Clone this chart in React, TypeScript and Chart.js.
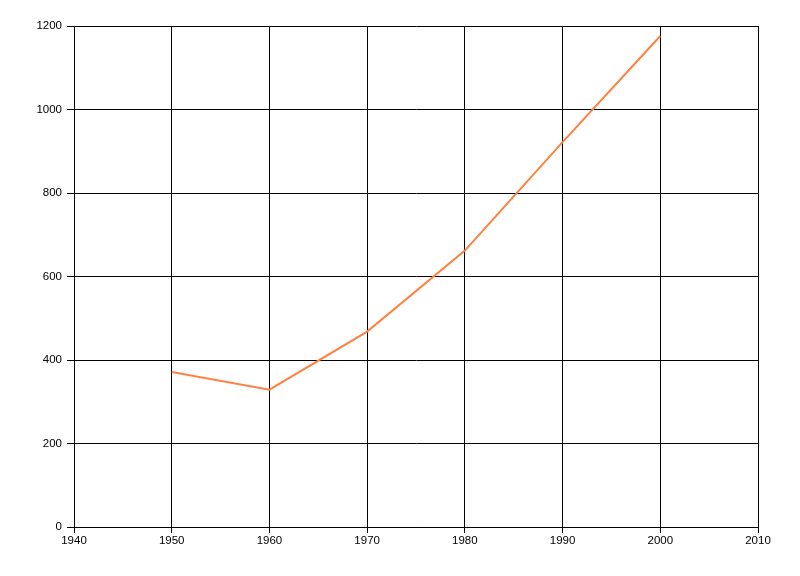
import React, { useEffect, useRef } from "react";
import { Chart, registerables } from "chart.js";

Chart.register(...registerables);

const years = [1950, 1960, 1970, 1980, 1990, 2000];
const values = [371, 329, 468, 662, 922, 1176];
const xMin = 1940;
const xMax = 2010;
const yMin = 0;
const yMax = 1200;

export default function App() {
  const ref = useRef<HTMLCanvasElement | null>(null);
  useEffect(() => {
    if (!ref.current) return;
    const font = { family: "'Liberation Sans', Arial, sans-serif", size: 11.5 };
    const chart = new Chart(ref.current, {
      type: "line",
      data: {
        datasets: [
          {
            data: years.map((x, i) => ({ x, y: values[i] })),
            borderColor: "rgb(255,128,64)",
            borderWidth: 2,
            pointRadius: 0,
            fill: false,
            tension: 0,
          },
        ],
      },
      options: {
        animation: false,
        responsive: false,
        maintainAspectRatio: false,
        layout: { padding: { left: 0, top: 26, right: 42, bottom: 0 } },
        plugins: { legend: { display: false }, tooltip: { enabled: false } },
        scales: {
          x: {
            type: "linear",
            min: xMin,
            max: xMax,
            afterFit: (s: any) => {
              s.height = 49;
            },
            ticks: {
              stepSize: 10,
              color: "#000",
              font,
              padding: 1,
              maxRotation: 0,
              callback: (v: any) => String(v),
            },
            grid: { color: "#000", tickColor: "#000", tickLength: 6, lineWidth: 1 },
            border: { color: "#000", width: 1 },
          },
          y: {
            min: yMin,
            max: yMax,
            afterFit: (s: any) => {
              s.width = 74;
            },
            ticks: { stepSize: 200, color: "#000", font, padding: 5, callback: (v: any) => String(v) },
            grid: { color: "#000", tickColor: "#000", tickLength: 7, lineWidth: 1 },
            border: { color: "#000", width: 1 },
          },
        },
      },
    });
    return () => chart.destroy();
  }, []);
  return (
    <div style={{ position: "fixed", left: 0, top: 0, width: 800, height: 576, background: "#fff" }}>
      <canvas ref={ref} width={800} height={576} style={{ width: 800, height: 576 }} />
    </div>
  );
}
